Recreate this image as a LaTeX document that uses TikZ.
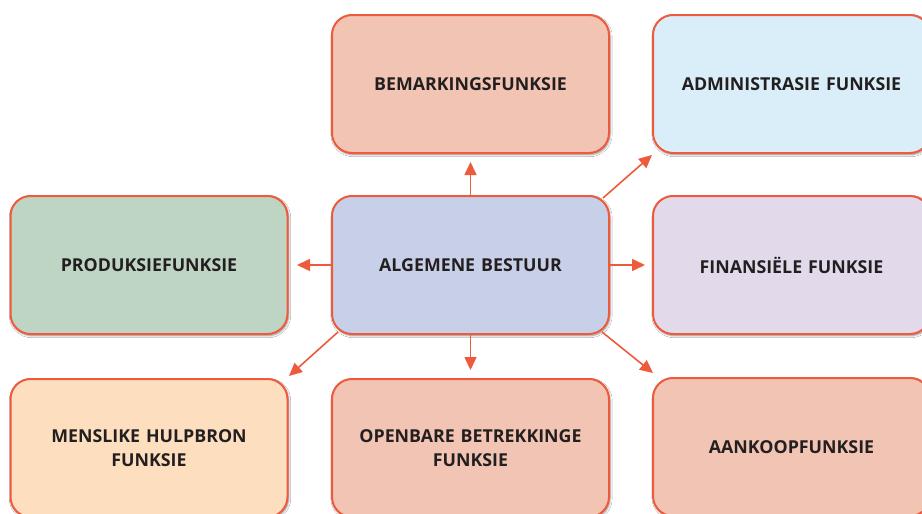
\documentclass[tikz,border=0pt]{standalone}
\usepackage{fontspec}
\setmainfont{Open Sans}
\usetikzlibrary{arrows.meta,shadows.blur}

\definecolor{edgered}{HTML}{EE5A3C}
\definecolor{inktext}{HTML}{231F20}
\definecolor{fillsalmon}{HTML}{F2C4B3}
\definecolor{fillsky}{HTML}{DAEEF9}
\definecolor{fillsage}{HTML}{BFD5C4}
\definecolor{fillperiwinkle}{HTML}{C7D0E8}
\definecolor{filllilac}{HTML}{E2DAEB}
\definecolor{fillpeach}{HTML}{FDDFC0}

\tikzset{
  funcbox/.style={
    draw=edgered, line width=2pt, rounded corners=20pt,
    minimum width=277pt, minimum height=138pt, inner sep=0pt,
    text width=260pt, align=center, text=inktext,
    font=\fontsize{17.8}{24}\selectfont\bfseries,
    blur shadow={shadow xshift=1pt, shadow yshift=-1.5pt,
                 shadow blur steps=6, shadow blur extra rounding=2pt,
                 shadow opacity=45}
  },
  link/.style={
    draw=edgered, line width=1.6pt,
    -{Triangle[length=13pt,width=12pt]}
  }
}

\begin{document}
\begin{tikzpicture}[x=1pt,y=-1pt]
  \clip (0,0) rectangle (922,514);
  \fill[white] (0,0) rectangle (922,514);

  % centre and surrounding function boxes
  \node[funcbox, fill=fillperiwinkle] (gm)    at (470.5,265) {ALGEMENE BESTUUR};
  \node[funcbox, fill=fillsalmon]     (mark)  at (470.5,84) {BEMARKINGSFUNKSIE};
  \node[funcbox, fill=fillsky]        (adm)   at (791.5,84) {ADMINISTRASIE FUNKSIE};
  \node[funcbox, fill=fillsage]       (prod)  at (149,265) {PRODUKSIEFUNKSIE};
  \node[funcbox, fill=filllilac]      (fin)   at (791.5,265) {FINANSIËLE FUNKSIE};
  \node[funcbox, fill=fillpeach]      (hr)    at (149,448) {MENSLIKE HULPBRON\\FUNKSIE};
  \node[funcbox, fill=fillsalmon]     (pr)    at (470.5,448) {OPENBARE BETREKKINGE\\FUNKSIE};
  \node[funcbox, fill=fillsalmon]     (buy)   at (791.5,447) {AANKOOPFUNKSIE};

  % arrow tips stop short of the target boxes
  \coordinate (tmark) at (470.5,162);
  \coordinate (tadm)  at (652,155);
  \coordinate (tprod) at (297,265);
  \coordinate (tfin)  at (645,265);
  \coordinate (thr)   at (289,376);
  \coordinate (tpr)   at (470.5,370);
  \coordinate (tbuy)  at (653,373);

  \draw[link] (gm.north) -- (tmark);
  \draw[link] (603,198) -- (tadm);
  \draw[link] (gm.west) -- (tprod);
  \draw[link] (gm.east) -- (tfin);
  \draw[link] (338,332) -- (thr);
  \draw[link] (gm.south) -- (tpr);
  \draw[link] (602,332) -- (tbuy);
\end{tikzpicture}
\end{document}
